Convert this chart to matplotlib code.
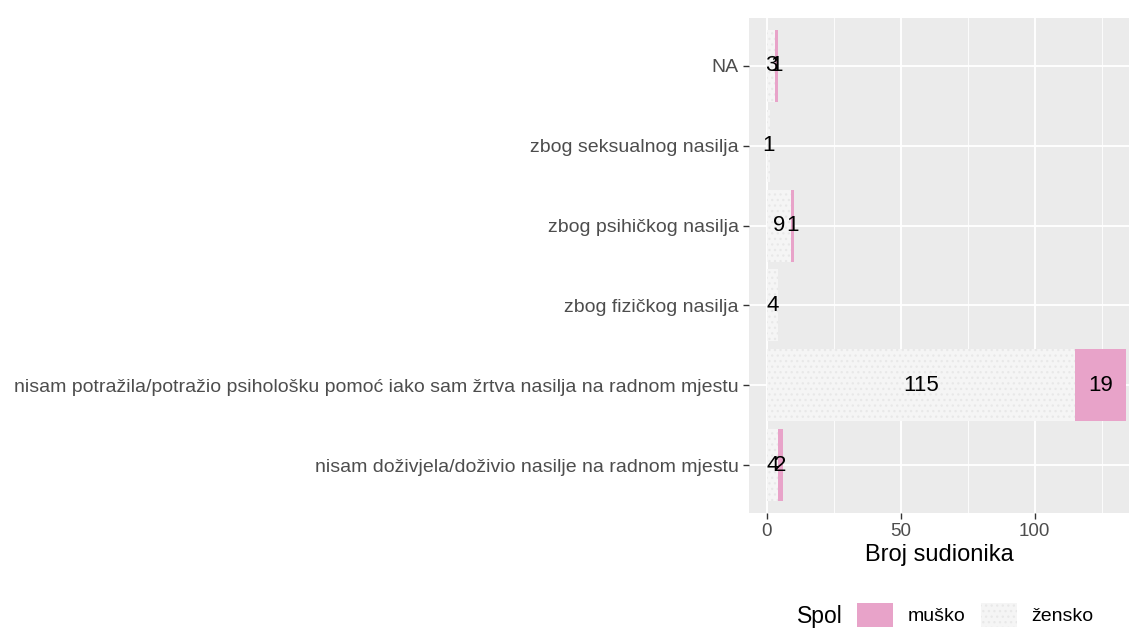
import numpy as np
import matplotlib
matplotlib.use("Agg")
from matplotlib import pyplot as plt
from matplotlib.patches import Patch

plt.rcParams['font.family'] = ['Liberation Sans', 'DejaVu Sans']
plt.rcParams['hatch.linewidth'] = 0.9

# categories, bottom to top
kategorije = [
    "nisam doživjela/doživio nasilje na radnom mjestu",
    "nisam potražila/potražio psihološku pomoć iako sam žrtva nasilja na radnom mjestu",
    "zbog fizičkog nasilja",
    "zbog psihičkog nasilja",
    "zbog seksualnog nasilja",
    "NA",
]
zensko = [4, 115, 4, 9, 1, 3]
musko = [2, 19, 0, 1, 0, 1]
spol = ["muško", "žensko"]

boja_musko = "#E8A3C9"
boja_zensko = "#F5F5F5"

fig = plt.figure(figsize=(11.29, 6.31), dpi=100)
ax = fig.add_axes([749 / 1129, 1 - 513 / 631, 1 - 749 / 1129, (513 - 18) / 631])
ax.set_facecolor("#EBEBEB")

y = np.arange(len(kategorije))
ax.barh(y, zensko, height=0.9, color=boja_zensko, edgecolor="#E8E8E8",
        hatch="...", linewidth=0, zorder=2)
ax.barh(y, musko, left=zensko, height=0.9, color=boja_musko, linewidth=0, zorder=2)

# value labels in the middle of each segment
for i in range(len(kategorije)):
    if zensko[i] > 0:
        ax.text(zensko[i] / 2, y[i], str(zensko[i]), ha="center", va="center",
                fontsize=16, color="black", zorder=3)
    if musko[i] > 0:
        ax.text(zensko[i] + musko[i] / 2, y[i], str(musko[i]), ha="center",
                va="center", fontsize=16, color="black", zorder=3)

ax.set_xlim(-6.7, 135.2)
ax.set_ylim(-0.6, len(kategorije) - 0.4)
ax.set_xticks([0, 50, 100])
ax.set_xticks([25, 75, 125], minor=True)
ax.set_yticks(y)
ax.set_yticklabels(kategorije)
ax.grid(True, which="major", color="white", linewidth=1.3, zorder=0)
ax.grid(True, which="minor", axis="x", color="white", linewidth=0.6, zorder=0)
ax.set_axisbelow(True)
for s in ax.spines.values():
    s.set_visible(False)
ax.tick_params(axis="both", which="major", labelcolor="#4D4D4D",
               color="#333333", length=4, width=1)
ax.tick_params(axis="y", labelsize=14)
ax.tick_params(axis="x", labelsize=13.5, pad=3)
ax.tick_params(axis="x", which="minor", length=0)
ax.set_xlabel("Broj sudionika", fontsize=17, color="black", labelpad=3)

# legend at the bottom, title to the left of the keys
handles = [Patch(facecolor=boja_musko, edgecolor="none"),
           Patch(facecolor=boja_zensko, edgecolor="#E8E8E8", hatch="...", linewidth=0)]
fig.legend(handles, spol, loc="center", ncol=2,
           bbox_to_anchor=(975 / 1129, 1 - 615 / 631), frameon=False,
           fontsize=14, handlelength=1.85, handleheight=1.6,
           columnspacing=0.8, handletextpad=0.75, borderpad=0)
fig.text(797 / 1129, 1 - 617 / 631, "Spol", fontsize=16.5, ha="left", va="center")

fig.savefig("out.png", dpi=100)
